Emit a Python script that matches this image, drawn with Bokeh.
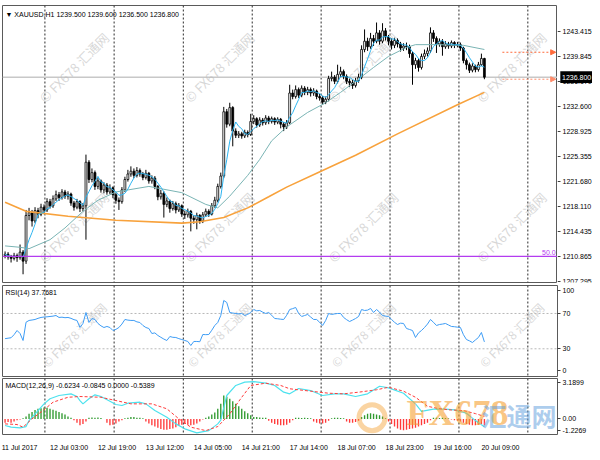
import numpy as np
from bokeh.plotting import figure
from bokeh.layouts import column, row
from bokeh.models import Range1d, FixedTicker, Span, Label, Arrow, NormalHead, BoxAnnotation
from bokeh.core.properties import value
from bokeh.embed import file_html
from bokeh.resources import INLINE

# ---------------- data (XAUUSD H1, bars indexed 0..160) ----------------
first_open = 1211.0
close = [1211.2, 1210.8, 1210.6, 1211.0, 1210.7, 1211.5, 1210.2, 1216.8, 1217.2, 1216.0,
         1217.5, 1217.0, 1218.0, 1217.6, 1218.8, 1218.2, 1219.2, 1219.8, 1219.4, 1220.2,
         1219.6, 1219.9, 1218.6, 1218.0, 1218.8, 1217.8, 1218.2, 1224.5, 1222.0, 1223.0,
         1221.0, 1221.8, 1220.5, 1221.2, 1220.2, 1220.8, 1219.8, 1219.0, 1218.8, 1220.5,
         1222.0, 1222.8, 1223.2, 1222.6, 1223.3, 1222.8, 1222.3, 1222.9, 1221.8, 1222.2,
         1221.0, 1219.5, 1220.0, 1218.4, 1218.9, 1217.8, 1218.5, 1217.6, 1218.2, 1217.0,
         1216.9, 1217.4, 1216.4, 1216.2, 1216.8, 1216.0, 1216.9, 1217.4, 1217.0, 1218.2,
         1219.0, 1221.0, 1222.5, 1231.8, 1230.0, 1232.4, 1229.0, 1228.4, 1228.6, 1228.3,
         1228.8, 1228.5, 1230.4, 1230.8, 1229.9, 1230.6, 1230.2, 1230.9, 1230.4, 1230.8,
         1230.3, 1230.7, 1230.0, 1229.6, 1230.2, 1234.5, 1234.0, 1235.0, 1234.2, 1235.2,
         1234.6, 1235.0, 1234.5, 1234.8, 1234.0, 1233.8, 1233.2, 1233.6, 1236.6, 1236.8,
         1236.2, 1237.2, 1237.6, 1236.9, 1236.2, 1236.0, 1235.6, 1236.3, 1236.8, 1240.8,
         1242.0, 1241.2, 1242.4, 1242.0, 1243.2, 1242.0, 1243.5, 1242.6, 1242.0, 1241.4,
         1242.1, 1241.6, 1241.0, 1241.3, 1241.2, 1240.2, 1238.6, 1239.2, 1238.2, 1239.8,
         1240.2, 1240.6, 1243.2, 1242.4, 1241.6, 1242.0, 1241.2, 1241.6, 1241.3, 1241.8,
         1241.4, 1241.5, 1241.0, 1239.2, 1238.6, 1237.8, 1238.4, 1237.9, 1238.6, 1239.5,
         1236.8]
high = [1211.6, 1211.5, 1211.1, 1211.4, 1211.3, 1212.6, 1211.8, 1217.6, 1217.9, 1217.6,
        1218.0, 1217.9, 1218.5, 1218.4, 1219.3, 1219.2, 1219.7, 1220.4, 1220.2, 1220.6,
        1220.5, 1220.3, 1220.1, 1218.9, 1219.2, 1219.0, 1218.6, 1225.6, 1224.8, 1223.6,
        1223.3, 1222.3, 1222.0, 1221.6, 1221.5, 1221.3, 1221.0, 1220.1, 1219.4, 1220.9,
        1222.4, 1223.4, 1223.9, 1223.6, 1223.8, 1223.6, 1223.1, 1223.4, 1223.1, 1222.6,
        1222.5, 1221.2, 1220.5, 1220.3, 1219.4, 1219.1, 1218.9, 1218.8, 1218.6, 1218.4,
        1217.5, 1217.8, 1217.6, 1216.8, 1217.2, 1217.0, 1217.3, 1217.8, 1217.7, 1218.6,
        1219.5, 1221.4, 1223.0, 1232.5, 1232.2, 1233.1, 1232.6, 1229.4, 1229.0, 1228.9,
        1229.2, 1229.1, 1231.5, 1231.3, 1231.0, 1231.0, 1230.9, 1231.3, 1231.2, 1231.1,
        1231.0, 1231.0, 1230.9, 1230.3, 1230.6, 1235.7, 1235.0, 1235.6, 1235.3, 1235.6,
        1235.5, 1235.4, 1235.3, 1235.2, 1235.0, 1234.4, 1234.1, 1234.0, 1237.0, 1237.6,
        1237.1, 1238.6, 1238.3, 1237.9, 1237.2, 1236.6, 1236.4, 1236.7, 1237.3, 1241.4,
        1243.7, 1242.5, 1243.2, 1242.9, 1244.7, 1243.6, 1244.6, 1243.9, 1242.9, 1242.4,
        1242.5, 1242.4, 1241.9, 1241.7, 1241.8, 1241.5, 1240.5, 1239.6, 1239.5, 1240.2,
        1240.8, 1241.1, 1244.0, 1243.6, 1242.7, 1242.4, 1242.3, 1242.0, 1241.9, 1242.1,
        1242.0, 1241.9, 1241.8, 1241.2, 1239.5, 1238.9, 1238.8, 1238.6, 1239.0, 1240.2,
        1239.6]
low = [1210.6, 1210.4, 1210.0, 1210.3, 1210.1, 1210.4, 1208.3, 1209.8, 1216.1, 1215.2,
       1215.7, 1216.4, 1216.7, 1217.0, 1217.3, 1217.8, 1217.9, 1218.9, 1218.9, 1219.1,
       1219.2, 1219.1, 1218.2, 1217.5, 1217.7, 1217.3, 1217.4, 1213.3, 1221.5, 1221.6,
       1220.5, 1220.6, 1220.1, 1220.0, 1219.8, 1219.9, 1219.3, 1218.5, 1217.6, 1218.5,
       1220.2, 1221.7, 1222.4, 1222.2, 1222.3, 1222.4, 1221.9, 1222.0, 1221.4, 1221.4,
       1220.6, 1219.0, 1219.1, 1216.5, 1218.0, 1217.2, 1217.5, 1217.1, 1217.3, 1216.6,
       1216.3, 1216.5, 1214.5, 1215.6, 1214.8, 1215.6, 1215.7, 1216.6, 1216.6, 1216.8,
       1217.9, 1218.7, 1220.7, 1222.2, 1229.5, 1229.7, 1226.8, 1228.0, 1228.0, 1227.9,
       1228.0, 1228.1, 1228.3, 1230.0, 1229.5, 1229.6, 1229.8, 1229.9, 1230.0, 1230.1,
       1229.9, 1230.0, 1229.4, 1229.0, 1229.3, 1230.0, 1233.6, 1233.7, 1233.8, 1233.9,
       1234.2, 1234.2, 1234.0, 1234.1, 1233.6, 1233.4, 1232.8, 1232.9, 1233.3, 1236.2,
       1235.8, 1235.9, 1236.8, 1236.5, 1235.8, 1235.4, 1235.1, 1235.3, 1236.0, 1236.5,
       1240.4, 1240.6, 1240.9, 1241.3, 1241.7, 1241.5, 1241.7, 1242.1, 1241.4, 1240.8,
       1241.0, 1241.1, 1240.5, 1240.6, 1240.7, 1239.6, 1235.7, 1238.0, 1237.6, 1237.9,
       1239.4, 1239.8, 1240.3, 1241.9, 1240.3, 1241.2, 1239.9, 1240.9, 1240.9, 1241.0,
       1241.0, 1241.1, 1240.6, 1238.8, 1237.9, 1237.4, 1237.5, 1237.5, 1237.6, 1238.4,
       1236.5]

# moving averages (bar index, price)
slow_ma_bar = [0, 7, 21, 37, 59, 65, 73, 81, 88, 94, 104, 117, 131, 151, 160]
slow_ma_val = [1218.7, 1217.4, 1216.7, 1216.1, 1215.7, 1215.9, 1216.5, 1217.9, 1219.5, 1220.9,
               1222.9, 1225.5, 1228.6, 1232.8, 1234.6]
mid_ma_bar = [0, 5, 8, 15, 20, 26, 31, 37, 48, 59, 67, 71, 75, 81, 85, 89, 94, 101, 107, 112,
              117, 123, 128, 134, 137, 144, 153, 160]
mid_ma_val = [1212.4, 1212.2, 1212.0, 1213.3, 1215.0, 1217.4, 1219.0, 1220.2, 1221.0, 1220.1,
              1218.4, 1217.9, 1219.6, 1222.6, 1224.9, 1227.6, 1229.6, 1231.7, 1233.1, 1234.6,
              1236.2, 1238.2, 1239.8, 1241.1, 1241.5, 1241.5, 1241.4, 1240.8]
fast_ma_period = 5

price_ticks = [1243.415, 1239.845, 1236.170, 1232.600, 1228.925, 1225.355, 1221.680,
               1218.110, 1214.435, 1210.865, 1207.295]
bid_price = 1236.8
fib_level = 1210.9
alert_levels = [1240.4, 1236.5]

rsi = [41.5, 42.0, 42.5, 46.0, 50.7, 47.3, 39.4, 60.1, 62.1, 62.6,
       63.2, 64.5, 65.5, 66.0, 66.2, 66.6, 67.0, 67.7, 65.5, 65.8,
       65.2, 65.5, 64.5, 63.0, 62.1, 54.1, 58.7, 71.1, 59.8, 64.3,
       63.2, 58.7, 56.0, 54.1, 55.3, 54.1, 50.7, 52.0, 54.1, 58.0,
       63.2, 62.5, 62.1, 62.1, 60.5, 59.8, 56.4, 54.1, 53.0, 47.3,
       48.0, 45.1, 43.0, 41.0, 39.4, 43.9, 43.0, 42.8, 41.5, 40.5,
       39.4, 38.3, 33.7, 38.3, 38.3, 38.0, 46.2, 46.0, 46.2, 51.0,
       56.4, 59.8, 67.7, 84.7, 82.5, 71.1, 70.5, 70.0, 69.5, 70.0,
       67.7, 69.0, 71.1, 74.5, 73.0, 73.4, 71.5, 70.0, 71.1, 68.0,
       64.3, 64.0, 63.5, 63.2, 68.0, 74.5, 75.5, 76.8, 70.0, 66.6,
       67.7, 68.9, 66.0, 63.2, 63.2, 60.0, 56.4, 62.0, 70.0, 68.9,
       69.5, 70.0, 70.0, 65.5, 63.0, 60.9, 62.5, 64.3, 66.6, 74.5,
       73.4, 73.8, 75.7, 71.1, 74.5, 71.5, 67.7, 67.0, 66.6, 63.2,
       60.0, 57.5, 59.0, 58.7, 53.0, 51.9, 50.7, 42.8, 48.0, 50.7,
       54.1, 58.0, 63.2, 60.0, 56.4, 57.5, 58.0, 58.7, 57.0, 55.3,
       55.0, 54.5, 54.1, 46.0, 40.5, 39.0, 37.1, 40.0, 42.8, 48.5,
       37.8]
rsi_levels = [70, 30]
rsi_ticks = [96, 70, 30, 4.9]
rsi_tick_labels = ["100", "70", "30", "0"]

macd_hist = [-0.30, -0.25, -0.30, -0.20, -0.10, -0.05, 0.05, 0.20, 0.40, 0.55,
             0.70, 0.80, 0.85, 0.90, 0.88, 0.80, 0.72, 0.65, 0.55, 0.45,
             0.35, 0.20, 0.10, -0.10, -0.30, -0.50, -0.40, -0.20, 0.10, 0.12,
             0.10, 0.12, 0.08, 0.00, -0.30, -0.50, -0.45, -0.35, -0.20, -0.10,
             0.05, 0.10, 0.15, 0.15, 0.10, 0.10, 0.05, -0.20, -0.35, -0.50,
             -0.60, -0.70, -0.80, -0.85, -0.85, -0.80, -0.75, -0.65, -0.55, -0.45,
             -0.40, -0.45, -0.50, -0.45, -0.35, -0.20, -0.05, 0.10, 0.20, 0.35,
             0.50, 0.80, 1.20, 1.85, 1.75, 1.60, 1.40, 1.20, 1.00, 0.80,
             0.60, 0.45, 0.30, 0.15, 0.15, 0.12, 0.10, 0.10, -0.15, -0.30,
             -0.40, -0.45, -0.50, -0.50, -0.45, -0.30, -0.10, 0.10, 0.10, 0.08,
             0.10, 0.08, 0.05, -0.20, -0.30, -0.35, -0.35, -0.30, -0.15, 0.05,
             0.10, 0.10, 0.08, 0.05, -0.20, -0.30, -0.30, -0.25, -0.15, 0.15,
             0.30, 0.40, 0.45, 0.40, 0.35, 0.30, 0.20, 0.05, -0.20, -0.40,
             -0.60, -0.75, -0.85, -0.90, -0.85, -0.80, -0.75, -0.70, -0.60, -0.50,
             -0.40, -0.30, -0.10, 0.10, 0.10, 0.08, 0.10, 0.08, 0.05, -0.05,
             -0.10, -0.15, -0.20, -0.30, -0.40, -0.45, -0.50, -0.50, -0.45, -0.40,
             -0.50]
macd_bar = [0, 2, 5, 7, 8, 11, 13, 15, 18, 22, 24, 25, 26, 28, 30, 32, 35, 37, 39, 41,
            45, 47, 50, 54, 57, 60, 64, 68, 71, 72, 73, 74, 77, 80, 83, 87, 90, 93, 95, 98,
            102, 106, 110, 113, 117, 121, 125, 128, 133, 137, 139, 143, 147, 150, 154, 157, 160]
macd_val = [-0.52, -0.65, -0.70, -0.60, -0.13, 0.66, 1.19, 1.59, 1.85, 1.98, 1.77, 1.45, 1.19,
            1.59, 1.90, 1.77, 1.40, 1.14, 1.06, 1.24, 1.32, 1.19, 0.66, 0.13, -0.39, -0.78,
            -1.10, -0.92, -0.39, -0.10, 0.90, 1.85, 2.64, 2.90, 2.95, 2.82, 2.64, 2.11, 1.98,
            2.40, 2.24, 1.85, 1.98, 1.98, 1.77, 1.98, 2.58, 2.45, 2.03, 1.19, 0.60, 0.78, 0.78,
            0.72, 0.45, -0.13, -0.62]
signal_bar = [0, 4, 6, 9, 13, 16, 21, 25, 32, 37, 42, 49, 54, 58, 62, 67, 71, 75, 79, 82,
              87, 92, 95, 102, 108, 113, 118, 124, 128, 133, 137, 141, 144, 148, 153, 157, 160]
signal_val = [-0.39, -0.44, -0.65, 0.01, 0.72, 1.32, 1.71, 1.77, 1.71, 1.45, 1.19, 1.19, 0.80,
              0.01, -0.65, -0.92, -0.60, 0.40, 1.71, 2.64, 2.82, 2.64, 2.38, 2.19, 2.03, 1.98,
              2.11, 2.30, 2.50, 2.19, 1.71, 1.00, 0.85, 0.72, 0.66, 0.42, 0.20]
macd_range = [-1.2269, 3.1899]
macd_ticks = [2.85, 0, -0.92]
macd_tick_labels = ["3.1899", "0.00", "-1.2269"]

day_start_bars = [13.3, 36.4, 59.5, 82.5, 105.5, 128.5, 151.5, 174.5]
time_label_bars = [-1.2, 15, 31, 47, 63, 79, 95, 111, 127, 143, 159]
time_labels = ["11 Jul 2017", "12 Jul 03:00", "12 Jul 19:00", "13 Jul 12:00", "14 Jul 05:00",
               "14 Jul 21:00", "17 Jul 14:00", "18 Jul 07:00", "18 Jul 23:00", "19 Jul 16:00",
               "20 Jul 09:00"]

title_text = "\u25bc XAUUSD,H1  1239.500 1239.600 1236.500 1236.800"
rsi_title = "RSI(14) 37.7681"
macd_title = "MACD(12,26,9) -0.6234 -0.0845 0.0000 -0.5389"
watermark = "\u00a9 FX678 \u6c47\u901a\u7f51"

# ---------------- helpers ----------------
FONT = "Liberation Sans"
CJK = "Noto Sans CJK SC"
FRAME_W = 555
SIDE_W = 35
n = len(close)
bars = np.arange(n)
c = np.array(close)
o = np.array([first_open] + close[:-1])
h = np.array(high)
l = np.array(low)
fast_ma = np.array([c[max(0, i - fast_ma_period + 1):i + 1].mean() for i in range(n)])

xr = Range1d(-0.86, 184.4)
px_per_bar = FRAME_W / (xr.end - xr.start)


def base(fig):
    fig.xgrid.visible = False
    fig.ygrid.visible = False
    fig.outline_line_color = "#5a5a5a"
    fig.outline_line_width = 1
    fig.background_fill_color = "white"
    fig.border_fill_color = "white"
    for d in day_start_bars:
        fig.add_layout(Span(location=d, dimension="height", line_color="#2a2a2a",
                            line_dash="2 2", line_width=1, level="underlay"))


def style_yaxis(ax, ticks, labels):
    ax.ticker = FixedTicker(ticks=ticks)
    ax.major_label_overrides = dict(zip(ticks, labels))
    ax.axis_line_color = None
    ax.major_tick_out = 3
    ax.major_tick_in = 0
    ax.major_tick_line_color = "#404040"
    ax.minor_tick_line_color = None
    ax.major_label_text_font = FONT
    ax.major_label_text_font_size = "7px"
    ax.major_label_text_color = "black"
    ax.major_label_standoff = 2


def wm(fig, xs, ys, size="13px"):
    fig.text(x=xs, y=ys, text=[watermark] * len(xs), angle=np.pi / 4,
             text_font=value(CJK), text_font_size=size, text_color="#bdbdbd",
             text_alpha=0.6, text_align="center", text_baseline="middle")


wm_cols = [23, 71.5, 119.5, 169]

# ---------------- main price panel ----------------
yr_main = Range1d(1207.11, 1247.16)
p = figure(x_range=xr, y_range=yr_main, frame_width=FRAME_W, frame_height=277,
           min_border_left=2, min_border_right=0, min_border_top=5, min_border_bottom=2,
           x_axis_location=None, y_axis_location=None,
           output_backend="svg", toolbar_location=None)
base(p)
wm(p, wm_cols * 2, [1238.2] * 4 + [1215.1] * 4)
p.add_layout(Span(location=bid_price, dimension="width", line_color="#c8c8c8",
                  line_width=1.5, level="underlay"))

inc = c >= o
p.segment(bars, l, bars, h, line_color="black", line_width=1)
p.vbar(x=bars[inc], width=0.62, top=c[inc], bottom=o[inc], fill_color="white",
       line_color="black", line_width=0.8)
p.vbar(x=bars[~inc], width=0.62, top=o[~inc], bottom=c[~inc], fill_color="black",
       line_color="black", line_width=0.8)

p.line(slow_ma_bar, slow_ma_val, line_color="#f8a23c", line_width=1.6)
p.line(mid_ma_bar, mid_ma_val, line_color="#7ab4b4", line_width=1)
p.line(bars, fast_ma, line_color="#2cb4f0", line_width=1)

p.add_layout(Span(location=fib_level, dimension="width", line_color="#b43cf0", line_width=1.2))
p.add_layout(Label(x=xr.end - 0.6, y=fib_level, text="50.0", text_align="right",
                   text_baseline="bottom", text_color="#b43cf0", text_font=FONT,
                   text_font_size="7px", y_offset=1))
for lvl, col in zip(alert_levels, ["#ff6a3a", "#ff8c6a"]):
    p.add_layout(Arrow(end=NormalHead(size=5, fill_color=col, line_color=col),
                       x_start=n - 1 + 6, y_start=lvl, x_end=xr.end - 0.6, y_end=lvl,
                       line_color=col, line_dash="2 2", line_width=1))

p.add_layout(Label(x=xr.start, y=yr_main.end, x_offset=3, y_offset=-5, text=title_text,
                   text_font=FONT, text_font_size="7px", text_baseline="top", text_color="black"))

# price scale strip to the right of the main panel (shares the price range)
sb = figure(x_range=Range1d(0, 1), y_range=yr_main, frame_width=SIDE_W, frame_height=277,
            min_border_left=0, min_border_right=0, min_border_top=5, min_border_bottom=2,
            x_axis_location=None, y_axis_location="right",
            output_backend="svg", toolbar_location=None)
sb.xgrid.visible = False
sb.ygrid.visible = False
sb.outline_line_color = None
sb.background_fill_color = "white"
sb.border_fill_color = "white"
style_yaxis(sb.yaxis[0], price_ticks, [f"{t:.3f}" for t in price_ticks])
sb.yaxis[0].fixed_location = 0
sb.add_layout(BoxAnnotation(left=0.08, right=1.0, bottom=bid_price - 0.85, top=bid_price + 0.85,
                            fill_color="black", fill_alpha=1.0, line_color=None))
sb.add_layout(Label(x=0.13, y=bid_price, text="1236.800", text_color="white",
                    text_font=FONT, text_font_size="7px", text_baseline="middle",
                    text_align="left"))

# ---------------- RSI panel ----------------
r = figure(x_range=xr, y_range=Range1d(-1.4, 101.7), frame_width=FRAME_W, frame_height=91,
           min_border_left=2, min_border_right=SIDE_W, min_border_top=1, min_border_bottom=1,
           x_axis_location=None, y_axis_location="right",
           output_backend="svg", toolbar_location=None)
base(r)
style_yaxis(r.yaxis[0], rsi_ticks, rsi_tick_labels)
wm(r, wm_cols, [46] * 4, size="12px")
for lv in rsi_levels:
    r.add_layout(Span(location=lv, dimension="width", line_color="#b8b8b8",
                      line_dash="2 2", line_width=1, level="underlay"))
r.line(bars, rsi, line_color="#3d9cf5", line_width=1)
r.add_layout(Label(x=xr.start, y=101.7, x_offset=3, y_offset=-3, text=rsi_title,
                   text_font=FONT, text_font_size="7px", text_baseline="top", text_color="black"))

# ---------------- MACD panel ----------------
m = figure(x_range=xr, y_range=Range1d(*macd_range), frame_width=FRAME_W, frame_height=56,
           min_border_left=2, min_border_right=SIDE_W, min_border_top=1, min_border_bottom=2,
           x_axis_location="below", y_axis_location="right",
           output_backend="svg", toolbar_location=None)
base(m)
style_yaxis(m.yaxis[0], macd_ticks, macd_tick_labels)

hist = np.array(macd_hist)
hcol = ["#2f9a2f" if v >= 0 else "#ff3a3a" for v in hist]
m.vbar(x=bars, width=0.45, top=np.maximum(hist, 0), bottom=np.minimum(hist, 0),
       fill_color=hcol, line_color=None)
m.line(macd_bar, macd_val, line_color="#4de2ee", line_width=1.2)
m.line(signal_bar, signal_val, line_color="#ff3b3b", line_width=1, line_dash="3 2")
m.add_layout(Label(x=xr.start, y=macd_range[1], x_offset=3, y_offset=-3, text=macd_title,
                   text_font=FONT, text_font_size="7px", text_baseline="top", text_color="black"))

# big logo watermark (kept inside the panel)
m.scatter(x=[122.5], y=[0.1], size=26, marker="circle", fill_alpha=0,
          line_color="#f5a030", line_alpha=0.45, line_width=5)
m.add_layout(Label(x=134, y=macd_range[0], y_offset=2, text="FX678", text_font="Liberation Sans Narrow",
                   text_font_style="bold", text_font_size="36px", text_color="#f5a030",
                   text_alpha=0.6, text_baseline="bottom"))
m.add_layout(Label(x=159, y=macd_range[0], y_offset=2, text="\u6c47\u901a\u7f51", text_font=CJK,
                   text_font_style="bold", text_font_size="25px", text_color="#5c9cdc",
                   text_alpha=0.5, text_baseline="bottom"))


def text_w(s):
    widths = {'J': 0.5, 'u': 0.556, 'l': 0.222, ' ': 0.278, ':': 0.278}
    return sum(widths.get(ch, 0.556) for ch in s) * 7


centers = [round(b + text_w(t) / 2 / px_per_bar, 2) for b, t in zip(time_label_bars, time_labels)]
xa = m.xaxis[0]
xa.ticker = FixedTicker(ticks=centers)
xa.major_label_overrides = dict(zip(centers, time_labels))
xa.axis_line_color = None
xa.major_tick_line_color = None
xa.minor_tick_line_color = None
xa.major_label_text_font = FONT
xa.major_label_text_font_size = "7px"
xa.major_label_text_color = "black"
xa.major_label_standoff = 3

layout = column(row(p, sb, spacing=0), r, m, spacing=0)
open("out.html", "w").write(file_html(layout, INLINE))
